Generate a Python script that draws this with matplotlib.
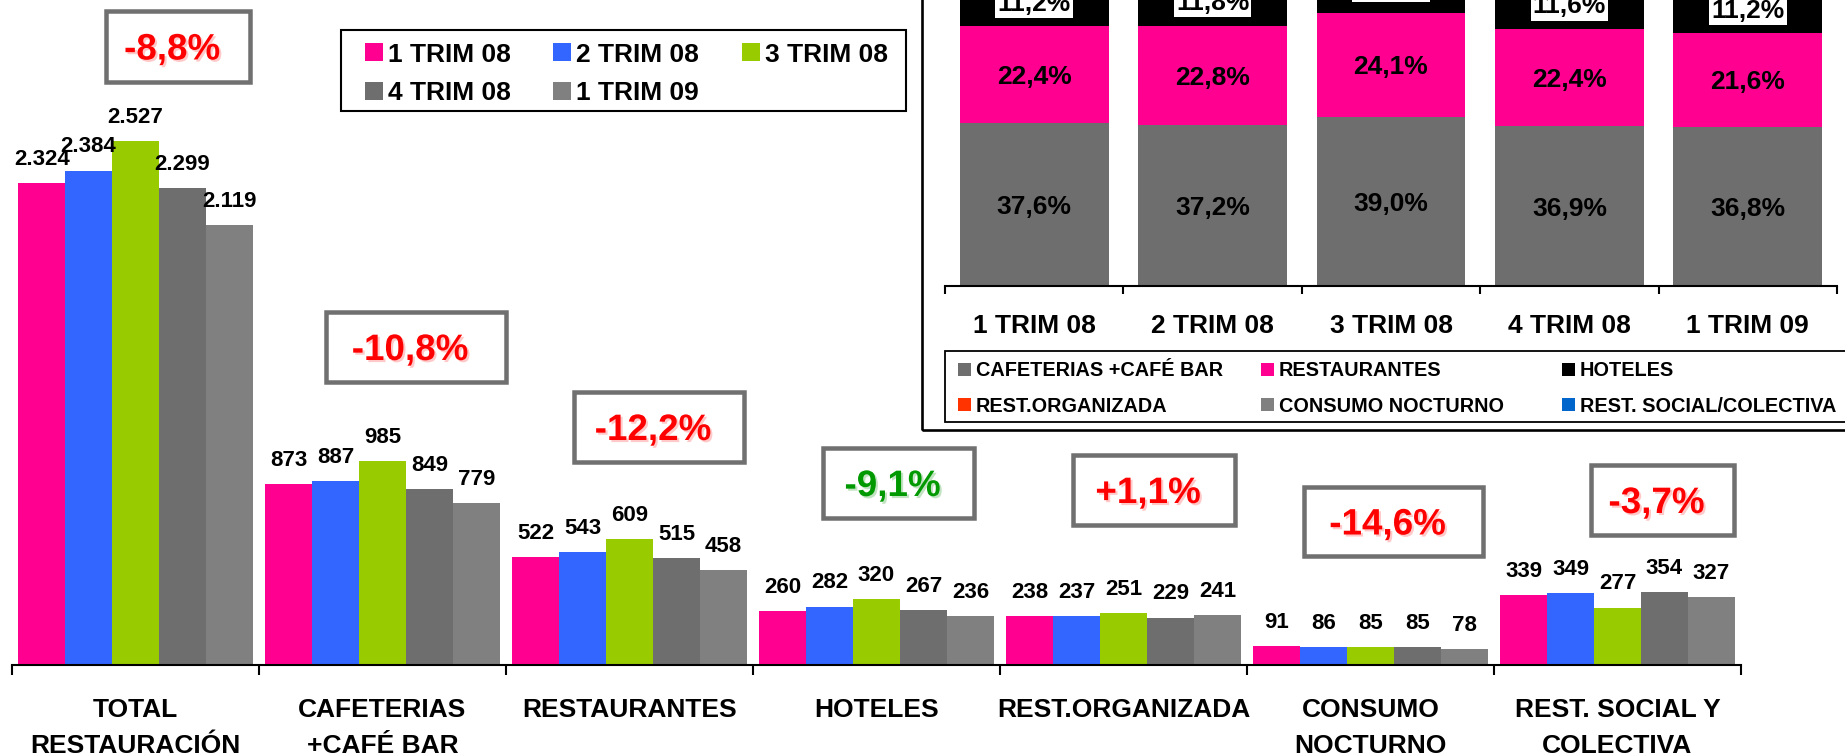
import matplotlib
matplotlib.use("Agg")
import matplotlib.pyplot as plt
from matplotlib.patches import Rectangle
from matplotlib import transforms
import matplotlib.patheffects as pe
import numpy as np

plt.rcParams['font.family'] = ['Liberation Sans', 'DejaVu Sans']
plt.rcParams['font.weight'] = 'bold'

# ---------------- data ----------------
categories = ["TOTAL\nRESTAURACIÓN", "CAFETERIAS\n+CAFÉ BAR", "RESTAURANTES", "HOTELES",
              "REST.ORGANIZADA", "CONSUMO\nNOCTURNO", "REST. SOCIAL Y\nCOLECTIVA"]
series_names = ["1 TRIM 08", "2 TRIM 08", "3 TRIM 08", "4 TRIM 08", "1 TRIM 09"]
t1_08 = [2324, 873, 522, 260, 238, 91, 339]
t2_08 = [2384, 887, 543, 282, 237, 86, 349]
t3_08 = [2527, 985, 609, 320, 251, 85, 277]
t4_08 = [2299, 849, 515, 267, 229, 85, 354]
t1_09 = [2119, 779, 458, 236, 241, 78, 327]
series_colors = ["#FF0090", "#3366FF", "#99CC00", "#6E6E6E", "#808080"]

pct_change = ["-8,8%", "-10,8%", "-12,2%", "-9,1%", "+1,1%", "-14,6%", "-3,7%"]
pct_colors = ["#FF0000", "#FF0000", "#FF0000", "#009900", "#FF0000", "#FF0000", "#FF0000"]

periods = ["1 TRIM 08", "2 TRIM 08", "3 TRIM 08", "4 TRIM 08", "1 TRIM 09"]
share_cafe = [37.6, 37.2, 39.0, 36.9, 36.8]
share_rest = [22.4, 22.8, 24.1, 22.4, 21.6]
share_hot = [11.2, 11.8, 12.7, 11.6, 11.2]
inset_names = ["CAFETERIAS +CAFÉ BAR", "RESTAURANTES", "HOTELES",
               "REST.ORGANIZADA", "CONSUMO NOCTURNO", "REST. SOCIAL/COLECTIVA"]
inset_colors = ["#6E6E6E", "#FF0090", "#000000", "#FF3300", "#808080", "#0066CC"]

# ---------------- layout helpers ----------------
W, H = 1845, 756
fig = plt.figure(figsize=(W / 100, H / 100), dpi=100)


def fx(x):
    return x / W


def fy(y):
    return 1 - y / H


def frect(x0, y0, x1, y1, **kw):
    r = Rectangle((fx(x0), fy(y1)), (x1 - x0) / W, (y1 - y0) / H,
                  transform=fig.transFigure, **kw)
    fig.add_artist(r)
    return r


# ---------------- main chart ----------------
ax = fig.add_axes([fx(12), fy(665), (1741 - 12) / W, 665 / H])
ax.patch.set_visible(False)
all_series = [t1_08, t2_08, t3_08, t4_08, t1_09]
x = np.arange(len(categories))
bw = 0.19
for i, (vals, col) in enumerate(zip(all_series, series_colors)):
    pos = x + (i - 2) * bw
    ax.bar(pos, vals, width=bw, color=col, edgecolor='none', zorder=2)
    for px_, v in zip(pos, vals):
        ax.annotate(f"{v:,}".replace(",", "."), (px_, v), xytext=(0, 13),
                    textcoords='offset points', ha='center', va='baseline',
                    fontsize=16, fontweight='bold', color='black')

ax.set_xlim(-0.5, len(categories) - 0.5)
ax.set_ylim(0, 3206)
for s in ['left', 'right', 'top']:
    ax.spines[s].set_visible(False)
ax.spines['bottom'].set_linewidth(1.5)
ax.set_yticks([])
ax.set_xticks([])
ax.set_xticks(np.arange(-0.5, len(categories)), minor=True)
ax.tick_params(axis='x', which='minor', length=7.2, width=1.5, direction='out',
               labelbottom=False)

tr = transforms.blended_transform_factory(ax.transData, fig.transFigure)
for xi, lab in zip(x, categories):
    lines = lab.split("\n")
    for li, line in enumerate(lines):
        ax.text(xi, fy(717 + 36 * li), line, transform=tr, ha='center', va='baseline',
                fontsize=19, fontweight='bold')

# percentage change boxes (layout in figure pixels)
pct_boxes = [(104, 9, 252, 84), (324, 310, 508, 384), (572, 390, 746, 464),
             (821, 446, 976, 520), (1071, 453, 1237, 527), (1302, 485, 1485, 558),
             (1589, 463, 1736, 537)]
bt = 4.5
for (x0, y0, x1, y1), txt, col in zip(pct_boxes, pct_change, pct_colors):
    frect(x0 + bt / 2, y0 + bt / 2, x1 - bt / 2, y1 - bt / 2, facecolor='white',
          edgecolor='#707070', linewidth=bt * 0.72, zorder=3)
    shadow = '#ffb3b3' if col == '#FF0000' else '#a8d8a8'
    fig.text(fx((x0 + x1) / 2 - 6), fy((y0 + y1) / 2 + 13), txt, ha='center', va='baseline',
             fontsize=26.5, fontweight='bold', color=col, zorder=4,
             path_effects=[pe.withSimplePatchShadow(offset=(1.5, -1.5),
                                                    shadow_rgbFace=shadow, alpha=0.7)])

# main legend (manual)
frect(341, 30, 906, 111, facecolor='white', edgecolor='black', linewidth=1.5, zorder=3)
col_x = [365, 553, 742]
row_y = [52, 91]
for k, (name, col) in enumerate(zip(series_names, series_colors)):
    r, c = divmod(k, 3)
    mx, my = col_x[c], row_y[r]
    frect(mx, my - 9, mx + 18, my + 9, facecolor=col, edgecolor='none', zorder=4)
    fig.text(fx(mx + 23), fy(my + 9.5), name, ha='left', va='baseline', fontsize=19,
             fontweight='bold', zorder=4)

# ---------------- inset stacked chart ----------------
frect(922, -20, 1870, 430, facecolor='none', edgecolor='black', linewidth=1.9, zorder=5)
ax2 = fig.add_axes([fx(945), fy(286), (1837 - 945) / W, 286 / H])
ax2.patch.set_visible(False)
xi2 = np.arange(len(periods))
bw2 = 0.835
bottom = np.zeros(len(periods))
for vals, col, boxed in [(share_cafe, inset_colors[0], False),
                         (share_rest, inset_colors[1], False),
                         (share_hot, inset_colors[2], True)]:
    vals = np.array(vals)
    ax2.bar(xi2, vals, width=bw2, bottom=bottom, color=col, edgecolor='none', zorder=2)
    for xx, b, v in zip(xi2, bottom, vals):
        kw = {}
        if boxed:
            kw['bbox'] = dict(boxstyle='square,pad=0.08', facecolor='white', edgecolor='none')
        ax2.text(xx, b + v / 2, f"{v:.1f}%".replace(".", ","), ha='center',
                 va='center_baseline', fontsize=19, fontweight='bold', color='black',
                 zorder=3, **kw)
    bottom = bottom + vals

ax2.set_xlim(-0.5, len(periods) - 0.5)
ax2.set_ylim(0, 66)
for s in ['left', 'right', 'top']:
    ax2.spines[s].set_visible(False)
ax2.spines['bottom'].set_linewidth(1.5)
ax2.set_yticks([])
ax2.set_xticks([])
ax2.set_xticks(np.arange(-0.5, len(periods)), minor=True)
ax2.tick_params(axis='x', which='minor', length=5.8, width=1.5, direction='out',
                labelbottom=False)
tr2 = transforms.blended_transform_factory(ax2.transData, fig.transFigure)
for xx, p in zip(xi2, periods):
    ax2.text(xx, fy(333), p, transform=tr2, ha='center', va='baseline', fontsize=19,
             fontweight='bold')

# inset legend (manual)
frect(945, 351, 1870, 422, facecolor='white', edgecolor='black', linewidth=1.3, zorder=5)
icol_x = [958, 1261, 1562]
irow_y = [369.5, 404.5]
for k, (name, col) in enumerate(zip(inset_names, inset_colors)):
    r, c = divmod(k, 3)
    mx, my = icol_x[c], irow_y[r]
    frect(mx, my - 6.5, mx + 13, my + 6.5, facecolor=col, edgecolor='none', zorder=6)
    fig.text(fx(mx + 18), fy(my + 7), name, ha='left', va='baseline', fontsize=14.3,
             fontweight='bold', zorder=6)

fig.savefig("out.png", dpi=100, facecolor='white')
